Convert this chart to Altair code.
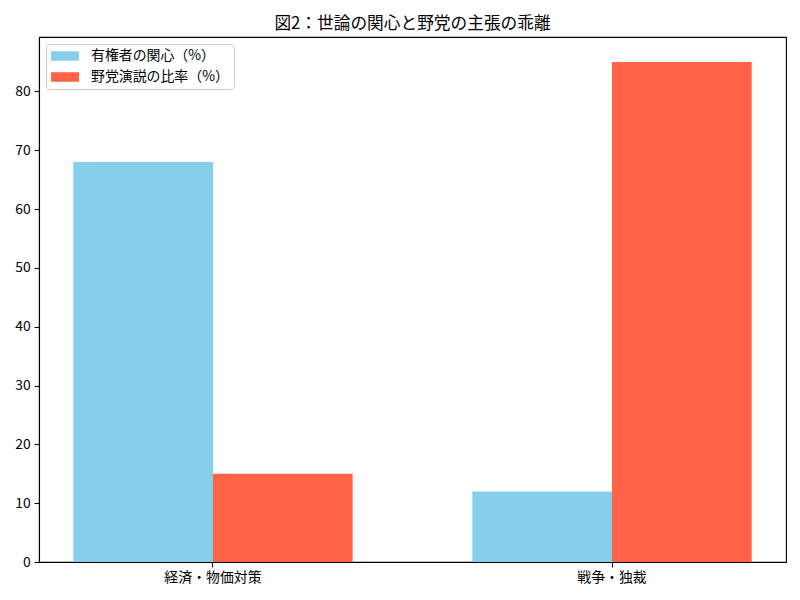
import altair as alt
import pandas as pd

categories = ["経済・物価対策", "戦争・独裁"]
series = ["有権者の関心（%）", "野党演説の比率（%）"]
voter_interest = [68, 12]
opposition_speech = [15, 85]
colors = ["#87CEEB", "#FF6347"]
y_ticks = [0, 10, 20, 30, 40, 50, 60, 70, 80]

rows = []
for i, c in enumerate(categories):
    rows.append({"category": c, "series": series[0], "value": voter_interest[i]})
    rows.append({"category": c, "series": series[1], "value": opposition_speech[i]})
df = pd.DataFrame(rows)

FONT = "Noto Sans CJK JP"

chart = alt.Chart(df).mark_bar().encode(
    x=alt.X("category:N", sort=categories,
            scale=alt.Scale(paddingInner=0.3, paddingOuter=0.086),
            axis=alt.Axis(title=None, labelAngle=0, labelFontSize=13.9, labelPadding=4,
                          tickSize=4.9, tickWidth=1.1, tickColor="black",
                          domainColor="black", domainWidth=1.1, labelColor="black",
                          labelFont=FONT)),
    xOffset=alt.XOffset("series:N", sort=series, scale=alt.Scale(paddingInner=0, paddingOuter=0)),
    y=alt.Y("value:Q", scale=alt.Scale(domain=[0, 89.25], nice=False),
            axis=alt.Axis(title=None, values=y_ticks, grid=False, labelFontSize=13.9,
                          labelPadding=4, tickSize=4.9, tickWidth=1.1, tickColor="black",
                          domainColor="black", domainWidth=1.1, labelColor="black",
                          labelFont=FONT)),
    color=alt.Color("series:N", sort=series,
                    scale=alt.Scale(domain=series, range=colors),
                    legend=alt.Legend(title=None, orient="top-left", offset=7,
                                      symbolType="M-2,-0.68H2V0.68H-2Z", symbolSize=196,
                                      symbolOffset=7,
                                      symbolStrokeWidth=0, labelFontSize=13.9, labelFont=FONT,
                                      labelColor="black", labelOffset=19, rowPadding=7,
                                      fillColor="white", strokeColor="#cccccc",
                                      cornerRadius=3, padding=5)),
).properties(
    width=747,
    height=525,
    title=alt.TitleParams("図2：世論の関心と野党の主張の乖離", font=FONT, fontSize=16.7,
                          fontWeight="normal", color="black", offset=4, anchor="middle"),
    autosize=alt.AutoSizeParams(type="none"),
    padding={"left": 31, "top": 29, "right": 6, "bottom": 30},
).configure_view(
    stroke="black", strokeWidth=1.1
)

chart.save("out.html", embed_options={"renderer": "svg", "actions": False})
